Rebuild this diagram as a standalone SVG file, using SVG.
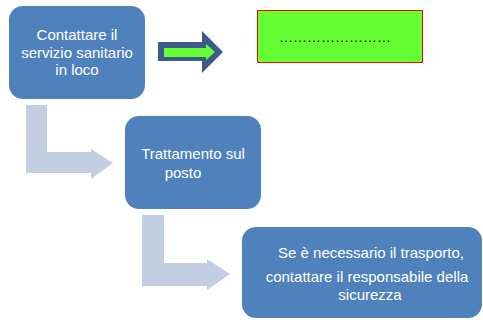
<svg xmlns="http://www.w3.org/2000/svg" width="483" height="320" viewBox="0 0 483 320">
<style>
.box{fill:#4f81bd;}
.t{font-family:"Liberation Sans",Arial,sans-serif;font-size:15px;fill:#ffffff;text-anchor:middle;}
.bend{fill:#c3cee2;}
</style>
<rect width="483" height="320" fill="#ffffff"/>
<g id="connectors">
<path class="bend" d="M26,105 H47 V152 H91 V149 L113,163 L91,179 V173 H26 Z"/>
<path class="bend" d="M142,215 H164 V263 H207 V259 L230,274 L207,290 V286 H142 Z"/>
<g id="arrow-right">
<path d="M158,42 H202 V31 L223,52 L202,73 V61 H158 Z" fill="#3b5b8c"/>
<path d="M164,48 H206 V44 L215,52 L206,60 V57 H164 Z" fill="#66ff33"/>
</g>
</g>
<g id="node1">
<rect class="box" x="9" y="6" width="136" height="93" rx="14"/>
<text class="t" x="77" y="40">Contattare il</text>
<text class="t" x="77" y="58">servizio sanitario</text>
<text class="t" x="77" y="75">in loco</text>
</g>
<g id="node-green">
<rect x="257.5" y="10.5" width="165" height="52" fill="#66ff33" stroke="#ff0000" stroke-width="1"/>
<text x="335" y="42" font-family="Liberation Sans,Arial,sans-serif" font-size="14px" text-anchor="middle" fill="#000000">……………………</text>
</g>
<g id="node2">
<rect class="box" x="125" y="116" width="136" height="93" rx="14"/>
<text class="t" x="193" y="159">Trattamento sul</text>
<text class="t" x="183" y="178">posto</text>
</g>
<g id="node3">
<rect class="box" x="242" y="227" width="240" height="91" rx="14"/>
<text class="t" x="371" y="258">Se è necessario il trasporto,</text>
<text class="t" x="367" y="282">contattare il responsabile della</text>
<text class="t" x="370" y="300">sicurezza</text>
</g>
</svg>
